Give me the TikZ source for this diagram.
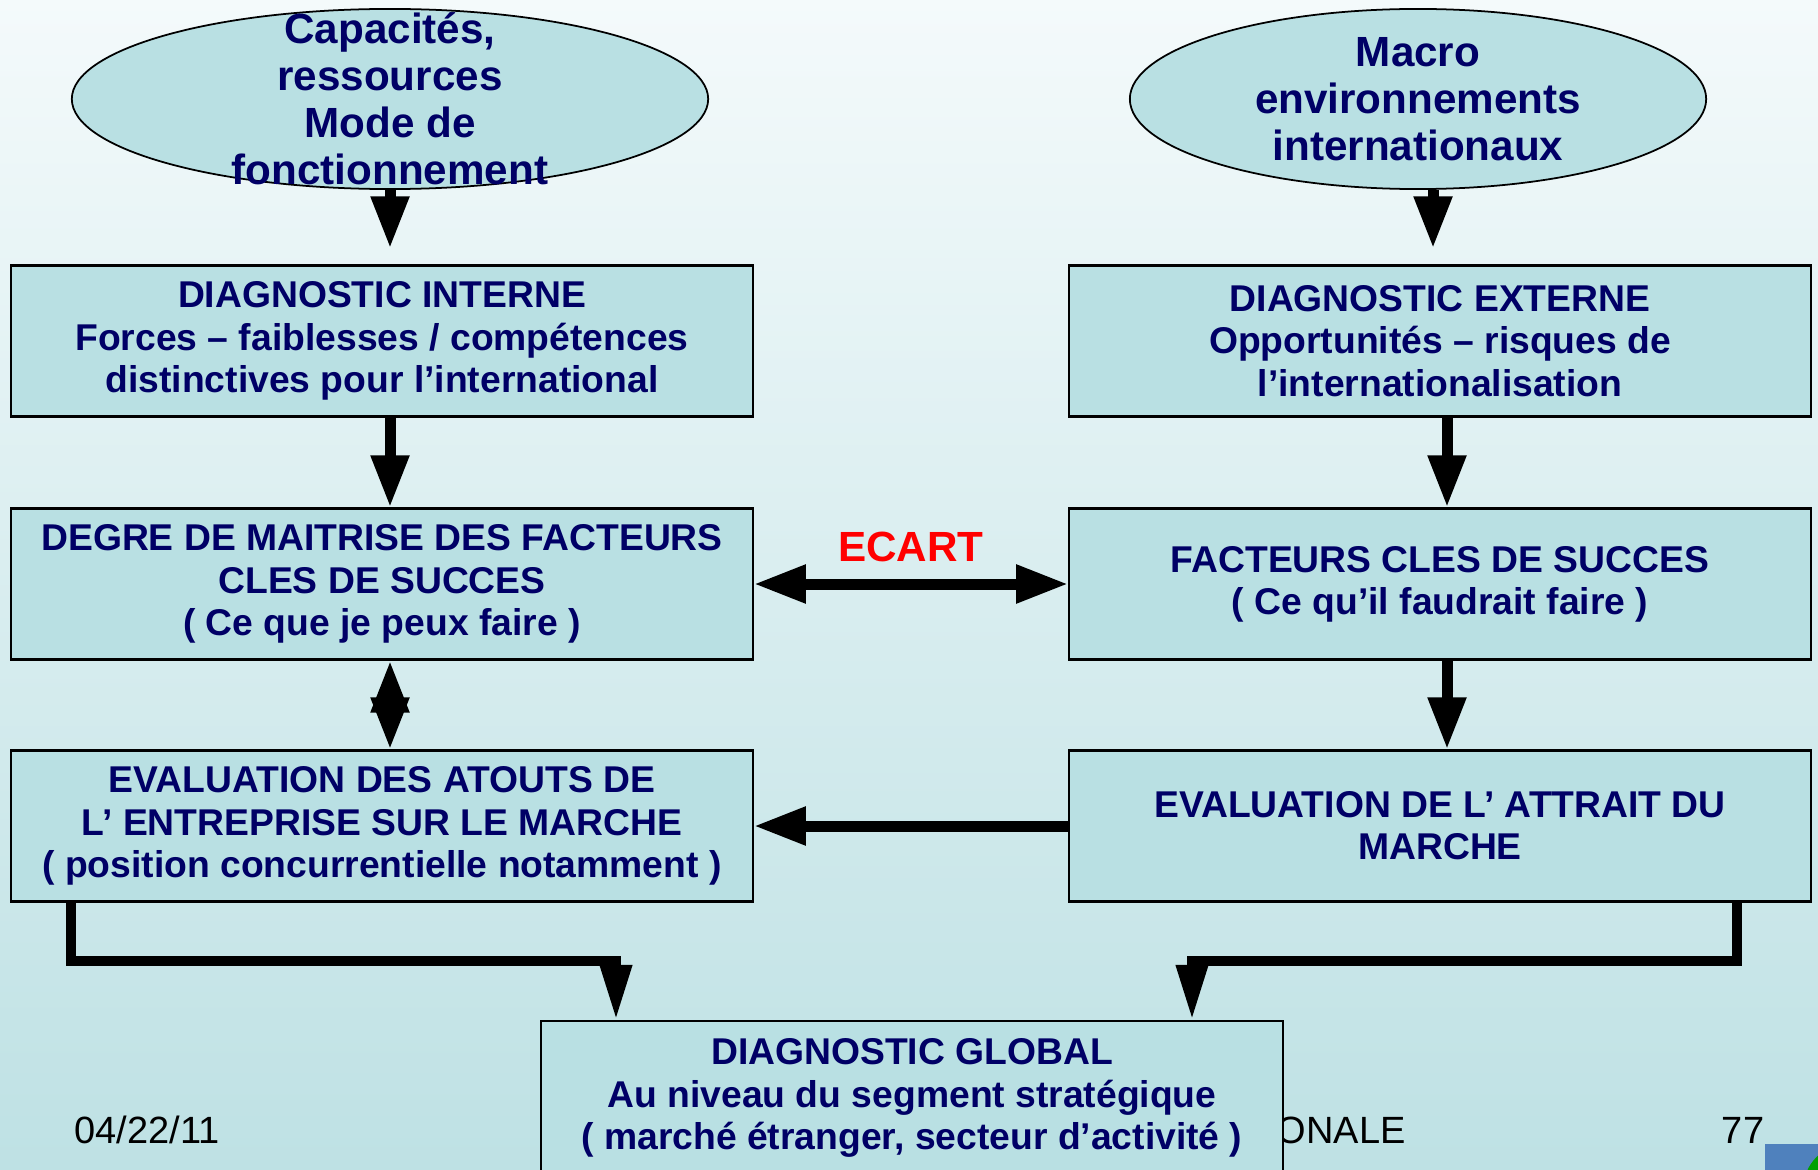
\documentclass[tikz,border=0pt]{standalone}
\usepackage{fontspec}
\setmainfont{Liberation Sans}
\usepackage{xcolor}
\usepackage{tikz}
\usetikzlibrary{arrows.meta,positioning,shapes.geometric}
\definecolor{fondhaut}{RGB}{244,250,251}
\definecolor{fondmilieu}{RGB}{218,238,240}
\definecolor{fondbas}{RGB}{190,225,228}
\definecolor{boite}{RGB}{185,224,227}
\definecolor{marine}{RGB}{0,0,102}
\definecolor{bleupied}{RGB}{79,129,189}
\definecolor{vertpied}{RGB}{0,160,0}

\begin{document}
\begin{tikzpicture}[x=0.01cm, y=-0.01cm,
    >={Triangle[width=0.36cm,length=0.52cm]},
    bloc/.style={draw, line width=0.6pt, fill=boite, minimum width=7.41cm, minimum height=1.51cm,
      inner sep=0pt, align=center, text=marine, font=\fontsize{10.6}{12}\selectfont\bfseries},
    oval/.style={ellipse, draw, line width=0.5pt, fill=boite, inner sep=0pt, minimum height=1.8cm},
    ovaltexte/.style={align=center, text=marine, font=\fontsize{12}{13.4}\selectfont\bfseries},
    fleche/.style={->, line width=0.11cm},
    coude/.style={-{Triangle[width=0.3cm,length=0.55cm]}, line width=0.1cm, line join=miter},
    pied/.style={text=black, inner sep=0pt, font=\fontsize{10.8}{12}\selectfont}]
        \useasboundingbox (0,0) rectangle (1818,1170);
        \clip (0,0) rectangle (1818,1170);
        \shade[top color=fondhaut, middle color=fondmilieu, bottom color=fondbas] (0,0) rectangle (1818,1170);
        \node[pied, anchor=west] (date) at (74,1130) {04/22/11};
        \node[pied, anchor=west] (titre) at (1276,1130) {ONALE};
        \node[pied] (page) at (1743,1130) {77};
        \fill[bleupied] (1765,1144) rectangle (1818,1170);
        \fill[vertpied] (1850,1190) circle (0.47cm);

        \node[oval, minimum width=6.36cm] (capa) at (390,99) {};
        \node[ovaltexte] (capatexte) at (capa) {Capacités,\\ressources\\Mode de\\fonctionnement};
        \node[oval, minimum width=5.76cm] (macro) at (1418,99) {};
        \node[ovaltexte] (macrotexte) at (macro) {Macro\\environnements\\internationaux};

        \node[bloc] (interne) at (382,341) {DIAGNOSTIC INTERNE\\Forces – faiblesses / compétences\\distinctives pour l’international};
        \node[bloc] (externe) at (1440,341) {DIAGNOSTIC EXTERNE\\Opportunités – risques de\\l’internationalisation};
        \node[bloc] (maitrise) at (382,584) {DEGRE DE MAITRISE DES FACTEURS\\CLES DE SUCCES\\( Ce que je peux faire )};
        \node[bloc] (fcs) at (1440,584) {FACTEURS CLES DE SUCCES\\( Ce qu’il faudrait faire )};
        \node[bloc] (atouts) at (382,826) {EVALUATION DES ATOUTS DE\\L’ ENTREPRISE SUR LE MARCHE\\( position concurrentielle notamment )};
        \node[bloc] (attrait) at (1440,826) {EVALUATION DE L’ ATTRAIT DU\\MARCHE};
        \node[bloc, minimum height=1.54cm] (global) at (912,1098) {DIAGNOSTIC GLOBAL\\Au niveau du segment stratégique\\( marché étranger, secteur d’activité )};

        \draw[fleche, shorten >=0.16cm] (capa.south) -- (capa.south |- interne.north);
        \draw[fleche, shorten >=0.16cm] ([xshift=0.15cm]macro.south) -- ([xshift=0.15cm]macro.south |- externe.north);
        \draw[fleche] ([xshift=0.08cm]interne.south) -- ([xshift=0.08cm]maitrise.north);
        \draw[fleche] ([xshift=0.07cm]externe.south) -- ([xshift=0.07cm]fcs.north);
        \draw[fleche] ([xshift=0.07cm]fcs.south) -- ([xshift=0.07cm]attrait.north);
        \draw[fleche] (attrait) -- (atouts);
        \draw[fleche, <->] ([xshift=0.08cm]maitrise.south) -- ([xshift=0.08cm]atouts.north);
        \draw[fleche, <->] (maitrise) -- (fcs)
          node[midway, above=0.05cm, text=red, font=\fontsize{12}{14}\selectfont\bfseries] (ecart) {ECART};

        \coordinate (coudeg) at (616,961);
        \coordinate (couded) at (1192,961);
        \draw[coude] ([xshift=0.61cm]atouts.south west) |- (coudeg) -- (coudeg |- global.north);
        \draw[coude] ([xshift=-0.75cm]attrait.south east) |- (couded) -- (couded |- global.north);
      \end{tikzpicture}
\end{document}
